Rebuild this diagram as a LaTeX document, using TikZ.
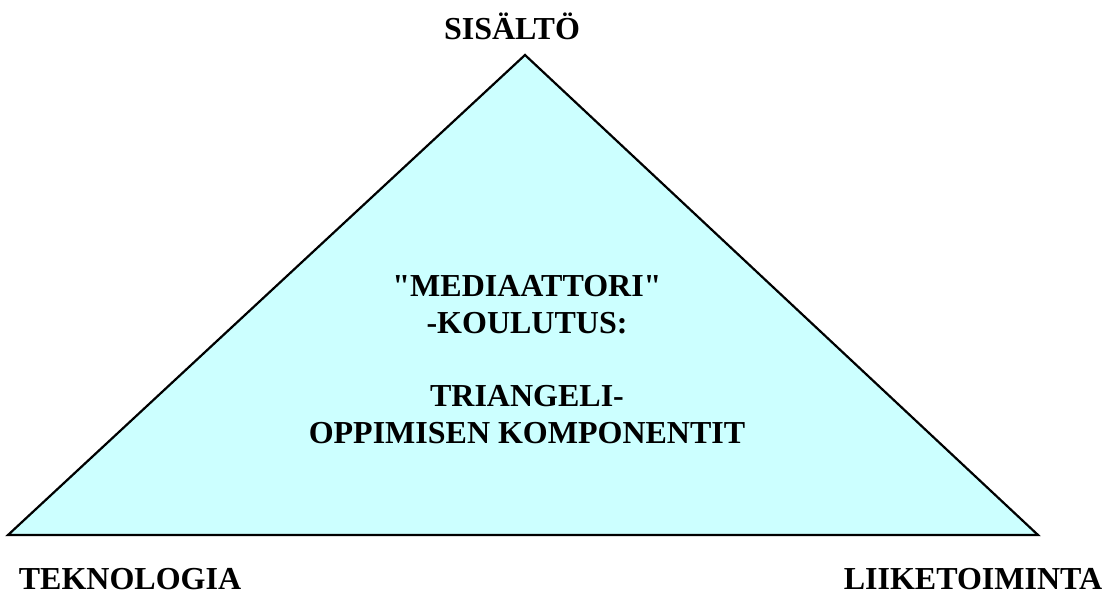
\documentclass[tikz,border=0pt]{standalone}
\usepackage{fontspec}
\setmainfont{Liberation Serif}
\usepackage{xcolor}
\usetikzlibrary{calc}
\definecolor{paleblue}{HTML}{CCFFFF}

\begin{document}
\begin{tikzpicture}[x=0.5pt,y=-0.5pt,line join=miter,
    corner/.style={font=\fontsize{16}{18}\selectfont\bfseries,inner sep=0pt,anchor=base},
    midtext/.style={font=\fontsize{16}{18.3}\selectfont\bfseries,inner sep=0pt,align=center,anchor=base}]
  \useasboundingbox (0,0) rectangle (1112,593);
  \coordinate (TL) at (8,535);
  \coordinate (TT) at (525,55);
  \coordinate (TR) at (1038,535);
  \draw[fill=paleblue,line width=1.1pt] (TL) -- (TT) -- (TR) -- cycle;
  \node[corner] (sis) at (512,40) {SISÄLTÖ};
  \node[corner] (tek) at (130,589) {TEKNOLOGIA};
  \node[corner] (lii) at (973,589) {LIIKETOIMINTA};
  \node[midtext] (mid) at (527,443) {\textquotedbl MEDIAATTORI\textquotedbl\\-KOULUTUS:\\[18.3pt]TRIANGELI-\\OPPIMISEN KOMPONENTIT};
\end{tikzpicture}
\end{document}
